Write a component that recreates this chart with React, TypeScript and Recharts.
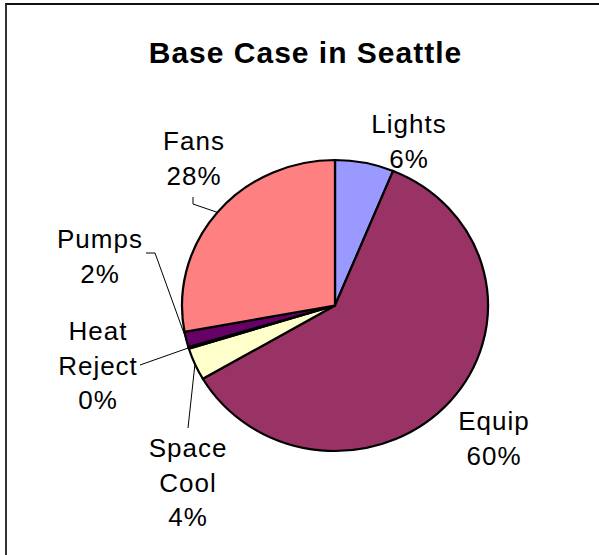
import { Cell, Pie, PieChart } from "recharts";

// slices clockwise from 12 o'clock
const categories = ["Lights", "Equip", "Space Cool", "Heat Reject", "Pumps", "Fans"];
const shares = [6.2, 60.4, 3.6, 0.2, 1.7, 27.9];
const colors = ["#9999FF", "#993366", "#FFFFCC", "#CCFFFF", "#660066", "#FF8080"];

const data = categories.map((name, i) => ({ name, value: shares[i] }));
const total = shares.reduce((s, v) => s + v, 0);

const FONT = "'Liberation Sans', Arial, sans-serif";
const RAD = Math.PI / 180;

// pie is drawn a touch wider than tall, like the Excel original
const CX = 335;
const CY = 305.5;
const R = 150;
const SX = 153 / R;
const SY = 145.5 / R;

// where each label sits (center x, first baseline) and where its leader line starts
const labelLayout: Record<string, { x: number; y: number; lines: string[]; leader?: [number, number][] }> = {
  Lights: { x: 409, y: 133, lines: ["Lights"] },
  Equip: { x: 494, y: 430, lines: ["Equip"] },
  "Space Cool": { x: 188, y: 457, lines: ["Space", "Cool"], leader: [[188, 428]] },
  "Heat Reject": { x: 98, y: 340, lines: ["Heat", "Reject"], leader: [[140, 365]] },
  Pumps: { x: 100, y: 248, lines: ["Pumps"], leader: [[146, 253], [155, 253]] },
  Fans: { x: 194, y: 150, lines: ["Fans"], leader: [[193, 197], [193, 204]] },
};

const LINE_H = 34.5;

function renderLabel(props: any) {
  const { cx, cy, midAngle, outerRadius, index } = props;
  const name = categories[index];
  const layout = labelLayout[name];
  const pct = `${Math.round((shares[index] / total) * 100)}%`;
  const lines = [...layout.lines, pct];
  const ex = cx + outerRadius * SX * Math.cos(-midAngle * RAD);
  const ey = cy + outerRadius * SY * Math.sin(-midAngle * RAD);
  const pts = layout.leader ? [...layout.leader, [ex, ey]] : null;
  return (
    <g key={name}>
      {pts && (
        <polyline
          points={pts.map((p) => `${p[0]},${p[1]}`).join(" ")}
          fill="none"
          stroke="#000"
          strokeWidth={1}
        />
      )}
      {lines.map((t, i) => (
        <text
          key={t + i}
          x={layout.x}
          y={layout.y + i * LINE_H}
          textAnchor="middle"
          fontFamily={FONT}
          fontSize={26}
          letterSpacing={1}
          fill="#000"
        >
          {t}
        </text>
      ))}
    </g>
  );
}

const noMargin = { top: 0, right: 0, bottom: 0, left: 0 };

export default function App() {
  return (
    <div style={{ position: "absolute", left: 0, top: 0, width: 599, height: 555, overflow: "hidden", background: "#fff" }}>
      <div
        style={{
          position: "absolute",
          left: 5,
          top: 3,
          width: 620,
          height: 580,
          borderTop: "2px solid #111",
          borderLeft: "2px solid #333",
        }}
      />
      <div
        style={{
          position: "absolute",
          left: 0,
          top: 36,
          width: 611,
          textAlign: "center",
          fontFamily: FONT,
          fontWeight: "bold",
          fontSize: 30,
          letterSpacing: 1,
          lineHeight: "34px",
        }}
      >
        Base Case in Seattle
      </div>
      {/* slices */}
      <div
        style={{
          position: "absolute",
          left: 0,
          top: 0,
          transform: `scale(${SX}, ${SY})`,
          transformOrigin: `${CX}px ${CY}px`,
        }}
      >
        <PieChart width={599} height={555} margin={noMargin}>
          <Pie
            data={data}
            dataKey="value"
            nameKey="name"
            cx={CX}
            cy={CY}
            outerRadius={R}
            startAngle={90}
            endAngle={-270}
            stroke="#000"
            strokeWidth={2.2}
            labelLine={false}
            isAnimationActive={false}
          >
            {data.map((d, i) => (
              <Cell key={d.name} fill={colors[i]} />
            ))}
          </Pie>
        </PieChart>
      </div>
      {/* labels and leader lines, unscaled */}
      <div style={{ position: "absolute", left: 0, top: 0 }}>
        <PieChart width={599} height={555} margin={noMargin}>
          <Pie
            data={data}
            dataKey="value"
            nameKey="name"
            cx={CX}
            cy={CY}
            outerRadius={R}
            startAngle={90}
            endAngle={-270}
            fill="none"
            stroke="none"
            label={renderLabel}
            labelLine={false}
            isAnimationActive={false}
          />
        </PieChart>
      </div>
    </div>
  );
}
